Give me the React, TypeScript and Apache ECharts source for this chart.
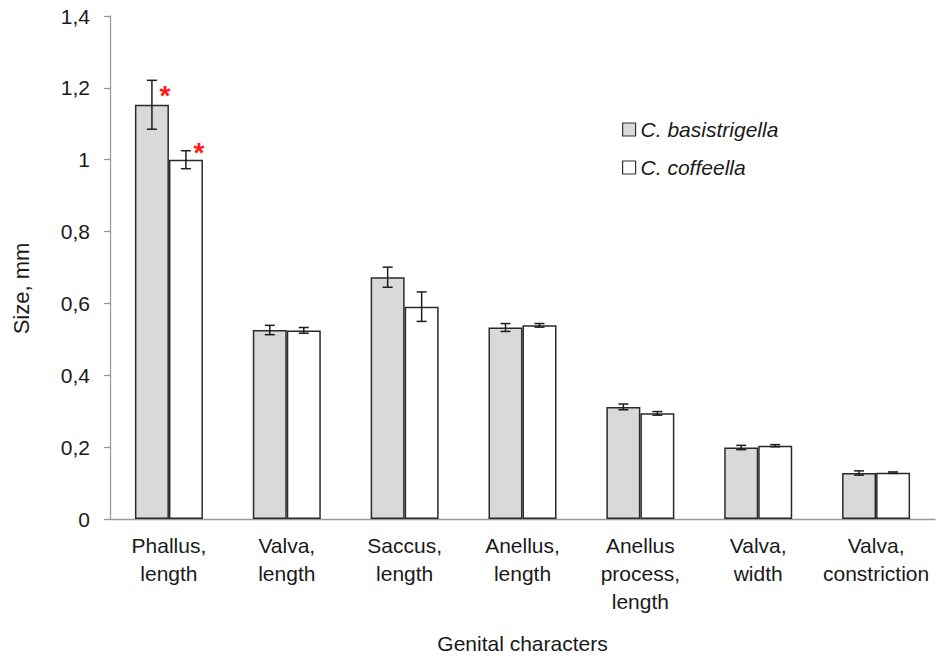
import React, { useEffect, useRef } from "react";
import * as echarts from "echarts";

const categories = [
  "Phallus,\nlength",
  "Valva,\nlength",
  "Saccus,\nlength",
  "Anellus,\nlength",
  "Anellus\nprocess,\nlength",
  "Valva,\nwidth",
  "Valva,\nconstriction",
];
const seriesNames = ["C. basistrigella", "C. coffeella"];
const basistrigella = [1.153, 0.526, 0.673, 0.533, 0.312, 0.199, 0.128];
const basistrigellaErr = [0.068, 0.013, 0.028, 0.011, 0.008, 0.006, 0.006];
const coffeella = [1.0, 0.525, 0.591, 0.539, 0.294, 0.204, 0.129];
const coffeellaErr = [0.025, 0.008, 0.041, 0.005, 0.005, 0.003, 0.002];
const significantIdx = [0];
const yTicks = { min: 0, max: 1.4, interval: 0.2 };

const FONT = "'Liberation Sans', Arial, sans-serif";
const BAR_W = 34;

export default function App() {
  const ref = useRef<HTMLDivElement>(null);
  useEffect(() => {
    if (!ref.current) return;
    const chart = echarts.init(ref.current, null, { renderer: "svg" });

    const barData = (vals: number[], starOffset: number[][]) =>
      vals.map((v, i) =>
        significantIdx.includes(i)
          ? {
              value: v,
              label: {
                show: true,
                position: "top",
                formatter: "*",
                color: "#ff1a1a",
                fontSize: 28,
                fontWeight: "bold",
                fontFamily: FONT,
                offset: starOffset[0],
              },
            }
          : v
      );

    const errSeries = (vals: number[], errs: number[], offset: number, name: string) => ({
      type: "custom",
      name,
      z: 5,
      data: vals.map((v, i) => [i, v, errs[i]]),
      encode: { x: 0, y: 1 },
      renderItem: (_p: any, api: any) => {
        const x = api.value(0);
        const v = api.value(1);
        const e = api.value(2);
        const top = api.coord([x, v + e]);
        const bot = api.coord([x, v - e]);
        const cx = top[0] + offset;
        const cap = 5;
        const style = { stroke: "#1e1e1e", lineWidth: 1.5 };
        return {
          type: "group",
          children: [
            { type: "line", shape: { x1: cx, y1: top[1], x2: cx, y2: bot[1] }, style },
            { type: "line", shape: { x1: cx - cap, y1: top[1], x2: cx + cap, y2: top[1] }, style },
            { type: "line", shape: { x1: cx - cap, y1: bot[1], x2: cx + cap, y2: bot[1] }, style },
          ],
        };
      },
    });

    const axisColor = "#9a9a9a";
    chart.setOption({
      animation: false,
      textStyle: { fontFamily: FONT },
      grid: { left: 110, right: 5, top: 16, bottom: 139 },
      legend: {
        data: seriesNames,
        orient: "vertical",
        left: 617,
        top: 114,
        itemWidth: 13,
        itemHeight: 13,
        itemGap: 17,
        icon: "rect",
        itemStyle: { borderColor: "#333", borderWidth: 1.2 },
        textStyle: {
          fontSize: 21,
          lineHeight: 21,
          fontStyle: "italic",
          color: "#1a1a1a",
          fontFamily: FONT,
        },
      },
      xAxis: {
        type: "category",
        data: categories,
        name: "Genital characters",
        nameLocation: "middle",
        nameGap: 114,
        nameTextStyle: { fontSize: 21, color: "#1a1a1a", fontFamily: FONT },
        axisLine: { lineStyle: { color: axisColor, width: 1.3 } },
        axisTick: { length: 6, lineStyle: { color: axisColor, width: 1.3 } },
        axisLabel: {
          fontSize: 21,
          lineHeight: 28,
          color: "#1a1a1a",
          margin: 12,
          interval: 0,
          fontFamily: FONT,
        },
      },
      yAxis: {
        type: "value",
        min: yTicks.min,
        max: yTicks.max,
        interval: yTicks.interval,
        name: "Size, mm",
        nameLocation: "middle",
        nameGap: 78,
        nameTextStyle: {
          fontSize: 22,
          color: "#1a1a1a",
          fontFamily: FONT,
          padding: [0, 42, 0, 0],
        },
        splitLine: { show: false },
        axisLine: { show: true, lineStyle: { color: axisColor, width: 1.3 } },
        axisTick: { show: true, length: 6, lineStyle: { color: axisColor, width: 1.3 } },
        axisLabel: {
          fontSize: 21,
          color: "#1a1a1a",
          margin: 20,
          fontFamily: FONT,
          formatter: (v: number) => String(+v.toFixed(1)).replace(".", ","),
        },
      },
      series: [
        {
          type: "bar",
          name: seriesNames[0],
          data: barData(basistrigella, [[13, 10]]),
          barWidth: BAR_W,
          barGap: "0%",
          itemStyle: { color: "#d9d9d9", borderColor: "#2a2a2a", borderWidth: 1.5 },
        },
        {
          type: "bar",
          name: seriesNames[1],
          data: barData(coffeella, [[13, 12]]),
          barWidth: BAR_W,
          barGap: "0%",
          itemStyle: { color: "#ffffff", borderColor: "#2a2a2a", borderWidth: 1.5 },
        },
        errSeries(basistrigella, basistrigellaErr, -BAR_W / 2, "err1"),
        errSeries(coffeella, coffeellaErr, BAR_W / 2, "err2"),
      ],
    });
    return () => chart.dispose();
  }, []);
  return (
    <div
      ref={ref}
      style={{ position: "absolute", left: 0, top: 0, width: 940, height: 659 }}
    />
  );
}
